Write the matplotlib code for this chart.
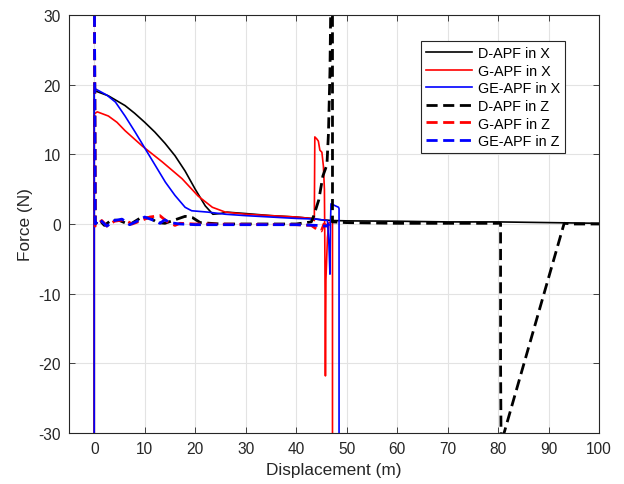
import numpy as np
import matplotlib.pyplot as plt

plt.rcParams['font.family'] = ['Liberation Sans', 'DejaVu Sans']
plt.rcParams['axes.unicode_minus'] = False

# D-APF in X (black solid)
d_x_pos = [0.0, 0.0, 0.2, 2.8, 6.1, 8.0, 10.0, 12.0, 14.0, 16.0, 18.0, 20.0, 22.0, 23.5,
           25.0, 26.3, 30.0, 35.0, 40.0, 43.0, 45.0, 47.2, 50.0, 60.0, 70.0, 80.0, 90.0,
           100.0]
d_x_force = [-35.0, 18.8, 19.1, 18.4, 17.0, 15.9, 14.6, 13.2, 11.6, 9.8, 7.6, 5.0, 2.6, 1.4,
             1.5, 1.7, 1.5, 1.2, 1.0, 0.8, 0.6, 0.5, 0.45, 0.4, 0.3, 0.3, 0.2, 0.1]

# G-APF in X (red solid)
g_x_pos = [0.0, 0.0, 0.6, 2.8, 4.5, 6.1, 9.5, 13.5, 17.4, 20.6, 23.4, 26.0, 30.0, 35.0,
           40.0, 43.0, 43.6, 43.7, 44.1, 44.4, 44.7, 45.1, 45.4, 45.6, 45.7, 45.8, 45.9,
           46.2, 46.5, 47.0, 47.2, 47.2]
g_x_force = [-35.0, 15.8, 16.1, 15.5, 14.6, 13.4, 11.2, 8.9, 6.5, 4.0, 2.4, 1.7, 1.4, 1.2,
             1.0, 0.8, 0.5, 12.5, 12.2, 11.9, 10.6, 10.3, 8.3, 5.0, -5.0, -21.8, -8.0,
             -2.0, 0.2, 0.3, 0.2, -35.0]

# GE-APF in X (blue solid)
ge_x_pos = [0.0, 0.0, 0.2, 2.5, 4.2, 6.1, 8.1, 10.1, 12.1, 14.1, 16.0, 18.0, 19.3, 22.6,
            26.0, 30.0, 35.0, 40.0, 44.0, 46.2, 46.5, 46.7, 46.8, 46.9, 48.4, 48.5, 48.5]
ge_x_force = [-35.0, 19.2, 19.4, 18.5, 17.5, 15.5, 13.2, 10.8, 8.4, 6.0, 4.1, 2.4, 1.9, 1.7,
              1.4, 1.2, 1.0, 0.8, 0.7, 0.5, -3.0, -7.2, 0.0, 2.9, 2.4, 2.2, -35.0]

# D-APF in Z (black dashed)
d_z_pos = [0.0, 0.2, 1.0, 2.0, 3.5, 5.0, 7.0, 9.0, 11.0, 12.5, 14.0, 16.0, 18.0, 19.5,
           21.0, 25.0, 30.0, 40.0, 43.0, 43.5, 44.5, 45.3, 46.1, 46.4, 46.7, 47.0, 47.2,
           47.2, 50.0, 60.0, 70.0, 80.5, 80.5, 80.6, 93.1, 95.0, 100.0]
d_z_force = [40.0, 0.0, 0.6, -0.2, 0.6, 0.5, -0.1, 0.8, 0.9, 0.2, 0.1, 0.6, 1.1, 0.9,
             0.2, 0.0, 0.0, 0.0, 0.3, 1.2, 3.5, 6.9, 8.5, 13.0, 22.0, 40.0, 30.0,
             0.3, 0.2, 0.1, 0.1, 0.1, -20.0, -31.5, 0.1, 0.0, 0.0]

# G-APF in Z (red dashed)
g_z_pos = [0.0, 0.2, 1.5, 2.5, 4.0, 6.0, 7.5, 9.0, 11.0, 13.0, 14.5, 16.0, 17.0, 20.0,
           30.0, 40.0, 43.0, 44.0, 45.0, 45.5, 46.0, 47.0]
g_z_force = [40.0, -0.3, 0.5, -0.3, 0.4, 0.6, 0.0, 0.4, 1.0, 1.2, 0.3, -0.2, 0.1, 0.0,
             -0.05, -0.1, -0.2, -0.7, -1.0, 0.0, -0.2, 0.0]

# GE-APF in Z (blue dashed)
ge_z_pos = [0.0, 0.2, 1.0, 2.5, 4.0, 5.5, 7.0, 8.5, 10.0, 11.5, 13.0, 14.0, 15.0, 17.0,
            20.0, 30.0, 40.0, 44.0, 46.0, 46.6]
ge_z_force = [40.0, 0.0, 0.7, -0.3, 0.5, 0.7, -0.1, 0.4, 1.0, 0.6, 0.1, 0.6, 0.2, 0.0,
              -0.1, -0.1, -0.1, -0.2, -0.3, 0.0]

x_ticks = np.arange(0, 101, 10)
y_ticks = np.arange(-30, 31, 10)

fig = plt.figure(figsize=(6.24, 4.85), dpi=100)
ax = fig.add_axes([69 / 624, 51 / 485, 530 / 624, 418 / 485])

dash = (0, (4, 2))
ax.plot(d_x_pos, d_x_force, color='k', lw=1.2, label='D-APF in X')
ax.plot(g_x_pos, g_x_force, color='r', lw=1.2, label='G-APF in X')
ax.plot(ge_x_pos, ge_x_force, color='b', lw=1.2, label='GE-APF in X')
ax.plot(d_z_pos, d_z_force, color='k', lw=2.0, linestyle=dash, label='D-APF in Z')
ax.plot(g_z_pos, g_z_force, color='r', lw=2.0, linestyle=dash, label='G-APF in Z')
ax.plot(ge_z_pos, ge_z_force, color='b', lw=2.0, linestyle=dash, label='GE-APF in Z')

ax.set_xlim(-5, 100)
ax.set_ylim(-30, 30)
ax.set_xticks(x_ticks)
ax.set_yticks(y_ticks)
ax.grid(True, color='#e3e3e3', lw=0.8)
ax.set_axisbelow(True)
ax.tick_params(direction='in', length=4, width=0.6, colors='#262626',
               top=True, right=True, labelsize=11.2, pad=6)
for s in ax.spines.values():
    s.set_color('#262626')
    s.set_linewidth(0.8)

ax.set_xlabel('Displacement (m)', fontsize=12.4, color='#262626')
ax.set_ylabel('Force (N)', fontsize=12.4, color='#262626')

leg = ax.legend(loc='upper left', bbox_to_anchor=(421 / 624, 1 - 42 / 485),
                bbox_transform=fig.transFigure, borderaxespad=0, fontsize=10.4,
                fancybox=False, framealpha=1, edgecolor='#262626',
                handlelength=3.2, handletextpad=0.4, labelspacing=0.25,
                borderpad=0.35)
leg.get_frame().set_linewidth(0.8)

fig.savefig('out.png', dpi=100)
